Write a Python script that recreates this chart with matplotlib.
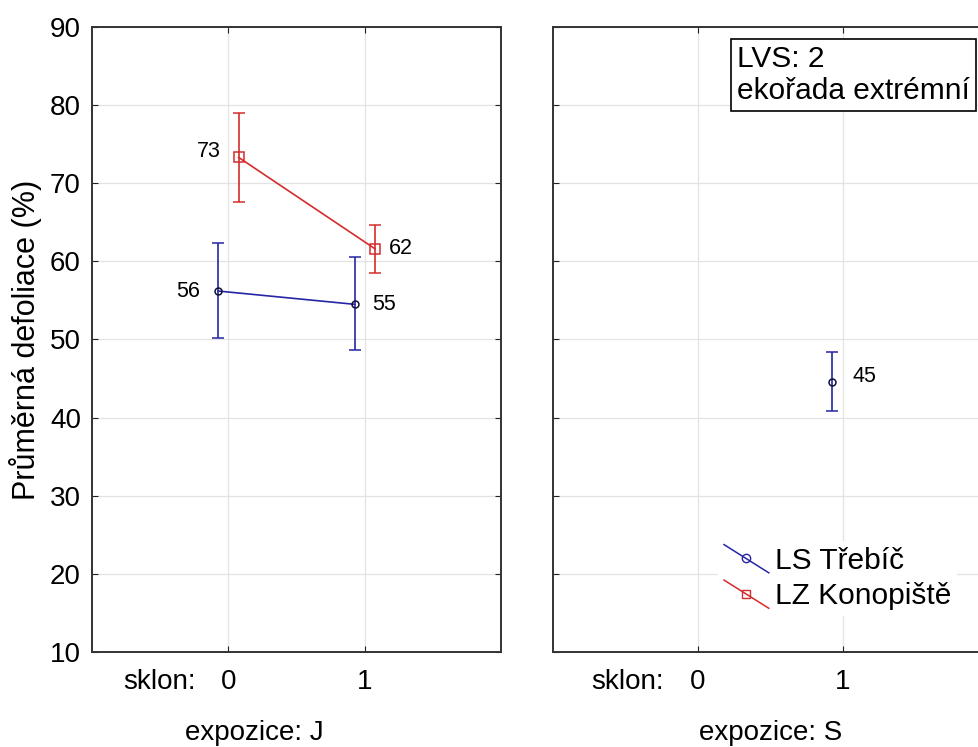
import matplotlib
matplotlib.use("Agg")
import matplotlib.pyplot as plt
from matplotlib.lines import Line2D
from matplotlib.legend_handler import HandlerLine2D

plt.rcParams['font.family'] = ['Liberation Sans', 'DejaVu Sans']

# data
sklon = [0, 1]
ls_trebic_J = [56.2, 54.5]
ls_trebic_J_lo = [50.2, 48.6]
ls_trebic_J_hi = [62.3, 60.5]
lz_konop_J = [73.3, 61.6]
lz_konop_J_lo = [67.6, 58.5]
lz_konop_J_hi = [79.0, 64.7]
ls_trebic_S_x = [1]
ls_trebic_S = [44.6]
ls_trebic_S_lo = [40.8]
ls_trebic_S_hi = [48.4]
labels_J_blue = ['56', '55']
labels_J_red = ['73', '62']
labels_S_blue = ['45']

blue = '#2626a6'
red = '#d42c2c'
off = 0.075


class DiagHandler(HandlerLine2D):
    def create_artists(self, legend, orig_handle, xdescent, ydescent, width, height, fontsize, trans):
        c = orig_handle.get_color()
        ln = Line2D([-xdescent, width - xdescent], [height * 1.15 - ydescent, -0.2 * height - ydescent],
                    color=c, lw=1.1)
        mk = Line2D([width / 2 - xdescent], [height / 2 - ydescent], marker=orig_handle.get_marker(),
                    ms=orig_handle.get_markersize(), mfc='none', mec=c, ls='none')
        ln.set_transform(trans)
        mk.set_transform(trans)
        return [ln, mk]


def style_axes(ax):
    ax.set_xlim(-1, 2)
    ax.set_ylim(10, 90)
    ax.set_xticks(sklon)
    ax.set_xticklabels(['0', '1'], fontsize=20)
    ax.set_yticks(range(10, 91, 10))
    ax.grid(True, color='#e3e3e3', lw=0.9)
    ax.set_axisbelow(True)
    ax.tick_params(direction='in', length=4, top=True, right=True, color='#222222', pad=12)
    ax.tick_params(axis='y', pad=8)
    for s in ax.spines.values():
        s.set_color('#333333')
        s.set_linewidth(1.4)


def errbar(ax, x, y, lo, hi, color, marker, mec, ms):
    yerr = [[a - b for a, b in zip(y, lo)], [b - a for a, b in zip(y, hi)]]
    ax.errorbar(x, y, yerr=yerr, color=color, lw=1.2, capsize=4.5, capthick=1.2,
                marker=marker, ms=ms, mfc='none', mec=mec, mew=1.1, zorder=3)


fig = plt.figure(figsize=(9.79, 7.47), dpi=100)
ax1 = fig.add_axes([0.094, 0.1272, 0.418, 0.8367])
ax2 = fig.add_axes([0.5649, 0.1272, 0.4443, 0.8367])

style_axes(ax1)
style_axes(ax2)
ax1.tick_params(axis='y', labelsize=20)
ax2.tick_params(axis='y', labelleft=False)

xb = [x - off for x in sklon]
xr = [x + off for x in sklon]
errbar(ax1, xb, ls_trebic_J, ls_trebic_J_lo, ls_trebic_J_hi, blue, 'o', '#111133', 5)
errbar(ax1, xr, lz_konop_J, lz_konop_J_lo, lz_konop_J_hi, red, 's', red, 6.5)

ax1.text(xb[0] - 0.13, ls_trebic_J[0], labels_J_blue[0], ha='right', va='center', fontsize=15.5)
ax1.text(xb[1] + 0.13, ls_trebic_J[1], labels_J_blue[1], ha='left', va='center', fontsize=15.5)
ax1.text(xr[0] - 0.13, lz_konop_J[0] + 0.8, labels_J_red[0], ha='right', va='center', fontsize=15.5)
ax1.text(xr[1] + 0.1, lz_konop_J[1], labels_J_red[1], ha='left', va='center', fontsize=15.5)

xs = [x - off for x in ls_trebic_S_x]
errbar(ax2, xs, ls_trebic_S, ls_trebic_S_lo, ls_trebic_S_hi, blue, 'o', '#111133', 5)
ax2.text(xs[0] + 0.14, ls_trebic_S[0] + 0.6, labels_S_blue[0], ha='left', va='center', fontsize=15.5)

ax1.set_ylabel('Průměrná defoliace (%)', fontsize=22, labelpad=6)

for ax, lab, lx in [(ax1, 'expozice: J', 0.19), (ax2, 'expozice: S', 0.5)]:
    ax.text(-0.24, -0.048, 'sklon:', transform=ax.get_xaxis_transform(), ha='right', va='center', fontsize=20)
    ax.text(lx, -0.141, lab, transform=ax.get_xaxis_transform(), ha='center', va='baseline', fontsize=20)

ax2.text(0.423, 0.875, 'LVS: 2\nekořada extrémní', transform=ax2.transAxes, fontsize=21.5,
         ha='left', va='bottom', linespacing=1.2,
         bbox=dict(boxstyle='square,pad=0.2', fc='white', ec='black', lw=1.2))

h1 = Line2D([], [], color=blue, marker='o', ms=6)
h2 = Line2D([], [], color=red, marker='s', ms=6)
leg = ax2.legend([h1, h2], ['LS Třebíč', 'LZ Konopiště'], handler_map={Line2D: DiagHandler()},
                 loc='upper left', bbox_to_anchor=(0.345, 0.202), fontsize=21.5, frameon=True,
                 handlelength=1.5, handletextpad=0.2, labelspacing=0.25, borderpad=0.2)
leg.get_frame().set_edgecolor('none')
leg.get_frame().set_facecolor('white')
leg.get_frame().set_alpha(1)

fig.savefig('out.png', dpi=100)
